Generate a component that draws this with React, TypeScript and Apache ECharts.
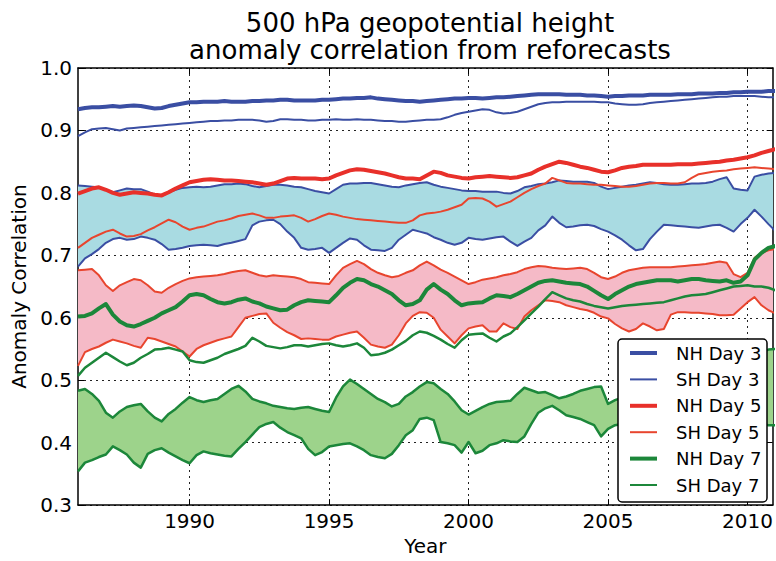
import React, { useEffect, useRef } from 'react';
import * as echarts from 'echarts';

// quarterly samples, first sample at START_YEAR
const START_YEAR = 1986;
const STEP = 0.25;

const NH_DAY3 = [
  0.934, 0.936, 0.937, 0.937, 0.938, 0.939, 0.938, 0.939, 0.940, 0.939, 0.937, 0.935,
  0.936, 0.939, 0.941, 0.943, 0.945, 0.945, 0.946, 0.946, 0.946, 0.947, 0.946, 0.946,
  0.946, 0.947, 0.947, 0.948, 0.948, 0.949, 0.949, 0.948, 0.948, 0.948, 0.948, 0.949,
  0.949, 0.950, 0.951, 0.951, 0.952, 0.952, 0.953, 0.951, 0.950, 0.949, 0.948, 0.947,
  0.947, 0.946, 0.947, 0.948, 0.949, 0.950, 0.951, 0.951, 0.952, 0.952, 0.951, 0.952,
  0.953, 0.953, 0.954, 0.955, 0.956, 0.957, 0.958, 0.958, 0.958, 0.958, 0.957, 0.957,
  0.957, 0.956, 0.956, 0.955, 0.954, 0.955, 0.955, 0.956, 0.956, 0.956, 0.957, 0.957,
  0.957, 0.957, 0.958, 0.958, 0.958, 0.959, 0.959, 0.959, 0.960, 0.960, 0.961, 0.961,
  0.962, 0.962, 0.962, 0.963, 0.963,
];

const SH_DAY3 = [
  0.891, 0.897, 0.902, 0.903, 0.904, 0.902, 0.900, 0.903, 0.904, 0.905, 0.906, 0.907,
  0.908, 0.909, 0.910, 0.911, 0.912, 0.913, 0.914, 0.915, 0.915, 0.916, 0.916, 0.917,
  0.917, 0.917, 0.916, 0.914, 0.915, 0.918, 0.918, 0.917, 0.917, 0.916, 0.916, 0.917,
  0.917, 0.918, 0.917, 0.917, 0.918, 0.917, 0.917, 0.916, 0.915, 0.915, 0.914, 0.914,
  0.915, 0.916, 0.917, 0.917, 0.918, 0.921, 0.925, 0.928, 0.930, 0.932, 0.934, 0.933,
  0.929, 0.927, 0.928, 0.930, 0.934, 0.938, 0.942, 0.944, 0.945, 0.945, 0.946, 0.946,
  0.946, 0.946, 0.946, 0.945, 0.945, 0.943, 0.942, 0.941, 0.941, 0.942, 0.944, 0.945,
  0.946, 0.947, 0.948, 0.949, 0.950, 0.951, 0.952, 0.953, 0.954, 0.954, 0.955, 0.955,
  0.955, 0.955, 0.954, 0.953, 0.953,
];

const NH_DAY5 = [
  0.799, 0.803, 0.807, 0.809, 0.805, 0.800, 0.797, 0.799, 0.801, 0.800, 0.799, 0.797,
  0.796, 0.801, 0.807, 0.812, 0.817, 0.819, 0.821, 0.822, 0.821, 0.820, 0.820, 0.819,
  0.818, 0.817, 0.815, 0.813, 0.815, 0.819, 0.823, 0.824, 0.823, 0.823, 0.823, 0.822,
  0.823, 0.828, 0.832, 0.836, 0.838, 0.837, 0.835, 0.833, 0.831, 0.828, 0.825, 0.823,
  0.823, 0.822, 0.828, 0.834, 0.832, 0.828, 0.826, 0.824, 0.823, 0.825, 0.826, 0.827,
  0.826, 0.825, 0.824, 0.825, 0.828, 0.831, 0.837, 0.842, 0.846, 0.850, 0.848, 0.845,
  0.842, 0.840, 0.837, 0.834, 0.833, 0.836, 0.840, 0.842, 0.843, 0.845, 0.845, 0.845,
  0.845, 0.845, 0.846, 0.846, 0.846, 0.847, 0.848, 0.849, 0.850, 0.852, 0.853, 0.855,
  0.857, 0.860, 0.864, 0.867, 0.870,
];

const SH_DAY5 = [
  0.712, 0.720, 0.728, 0.733, 0.738, 0.741, 0.735, 0.730, 0.731, 0.734, 0.740, 0.745,
  0.751, 0.757, 0.753, 0.746, 0.741, 0.744, 0.746, 0.750, 0.754, 0.756, 0.759, 0.763,
  0.765, 0.767, 0.764, 0.760, 0.760, 0.762, 0.763, 0.764, 0.760, 0.754, 0.758, 0.763,
  0.767, 0.765, 0.762, 0.760, 0.758, 0.757, 0.756, 0.755, 0.754, 0.753, 0.752, 0.752,
  0.756, 0.764, 0.767, 0.768, 0.770, 0.773, 0.777, 0.781, 0.791, 0.792, 0.791, 0.786,
  0.778, 0.782, 0.786, 0.793, 0.800, 0.806, 0.811, 0.815, 0.824, 0.820, 0.816, 0.815,
  0.815, 0.814, 0.813, 0.813, 0.812, 0.811, 0.810, 0.810, 0.811, 0.813, 0.815, 0.816,
  0.816, 0.815, 0.815, 0.817, 0.824, 0.830, 0.832, 0.834, 0.835, 0.836, 0.838, 0.839,
  0.840, 0.841, 0.840, 0.839, 0.838,
];

const NH_DAY7 = [
  0.602, 0.603, 0.607, 0.615, 0.622, 0.605, 0.594, 0.588, 0.586, 0.590, 0.595, 0.600,
  0.607, 0.612, 0.617, 0.626, 0.636, 0.638, 0.636, 0.630, 0.625, 0.623, 0.625, 0.629,
  0.631, 0.626, 0.623, 0.618, 0.615, 0.612, 0.613, 0.620, 0.625, 0.628, 0.627, 0.626,
  0.625, 0.636, 0.648, 0.656, 0.662, 0.660, 0.654, 0.650, 0.644, 0.638, 0.628, 0.620,
  0.622, 0.628, 0.645, 0.654, 0.645, 0.638, 0.628, 0.620, 0.623, 0.624, 0.625, 0.631,
  0.636, 0.635, 0.633, 0.638, 0.644, 0.650, 0.656, 0.659, 0.660, 0.658, 0.656, 0.655,
  0.654, 0.650, 0.643, 0.636, 0.630, 0.638, 0.644, 0.650, 0.654, 0.656, 0.658, 0.660,
  0.660, 0.660, 0.658, 0.660, 0.662, 0.662, 0.660, 0.659, 0.658, 0.660, 0.656, 0.658,
  0.668, 0.693, 0.704, 0.712, 0.715,
];

const SH_DAY7 = [
  0.507, 0.520, 0.528, 0.536, 0.544, 0.537, 0.530, 0.524, 0.528, 0.536, 0.542, 0.549,
  0.550, 0.552, 0.549, 0.546, 0.532, 0.529, 0.528, 0.532, 0.536, 0.542, 0.546, 0.550,
  0.555, 0.568, 0.562, 0.555, 0.553, 0.551, 0.553, 0.556, 0.556, 0.554, 0.556, 0.558,
  0.559, 0.556, 0.554, 0.556, 0.559, 0.552, 0.540, 0.541, 0.544, 0.549, 0.556, 0.563,
  0.572, 0.578, 0.576, 0.571, 0.565, 0.558, 0.552, 0.564, 0.573, 0.574, 0.575, 0.568,
  0.562, 0.570, 0.575, 0.585, 0.596, 0.607, 0.618, 0.630, 0.641, 0.636, 0.631, 0.628,
  0.626, 0.622, 0.619, 0.617, 0.615, 0.617, 0.619, 0.620, 0.621, 0.622, 0.623, 0.624,
  0.625, 0.628, 0.631, 0.634, 0.636, 0.637, 0.638, 0.641, 0.644, 0.647, 0.650, 0.651,
  0.652, 0.650, 0.650, 0.648, 0.644,
];

// shaded spread bands (upper and lower edges)
const BAND3_UPPER = [
  0.812, 0.811, 0.810, 0.809, 0.805, 0.801, 0.804, 0.807, 0.806, 0.806, 0.802, 0.797,
  0.795, 0.801, 0.805, 0.808, 0.809, 0.810, 0.809, 0.810, 0.812, 0.814, 0.814, 0.815,
  0.814, 0.811, 0.809, 0.811, 0.813, 0.813, 0.812, 0.810, 0.809, 0.806, 0.803, 0.801,
  0.799, 0.806, 0.813, 0.815, 0.815, 0.816, 0.816, 0.814, 0.812, 0.810, 0.809, 0.812,
  0.814, 0.816, 0.817, 0.813, 0.810, 0.808, 0.806, 0.804, 0.803, 0.803, 0.802, 0.802,
  0.802, 0.800, 0.799, 0.803, 0.809, 0.811, 0.814, 0.815, 0.817, 0.820, 0.819, 0.818,
  0.818, 0.818, 0.816, 0.810, 0.806, 0.808, 0.810, 0.812, 0.813, 0.815, 0.817, 0.816,
  0.814, 0.813, 0.813, 0.814, 0.815, 0.815, 0.816, 0.818, 0.822, 0.825, 0.807, 0.805,
  0.804, 0.826, 0.829, 0.831, 0.832,
];

const BAND3_LOWER = [
  0.682, 0.695, 0.702, 0.710, 0.720, 0.726, 0.728, 0.725, 0.726, 0.730, 0.728, 0.725,
  0.718, 0.709, 0.710, 0.712, 0.715, 0.716, 0.717, 0.716, 0.715, 0.718, 0.720, 0.723,
  0.726, 0.748, 0.754, 0.756, 0.757, 0.750, 0.738, 0.728, 0.712, 0.709, 0.710, 0.712,
  0.704, 0.712, 0.720, 0.727, 0.725, 0.716, 0.709, 0.708, 0.707, 0.712, 0.725, 0.733,
  0.741, 0.738, 0.735, 0.729, 0.725, 0.720, 0.717, 0.720, 0.728, 0.726, 0.725, 0.727,
  0.729, 0.730, 0.722, 0.715, 0.722, 0.728, 0.740, 0.748, 0.762, 0.752, 0.745, 0.746,
  0.748, 0.749, 0.747, 0.742, 0.738, 0.732, 0.725, 0.716, 0.708, 0.710, 0.726, 0.738,
  0.749, 0.748, 0.747, 0.746, 0.745, 0.744, 0.746, 0.748, 0.749, 0.744, 0.738, 0.750,
  0.760, 0.773, 0.762, 0.750, 0.739,
];

const BAND5_UPPER = [
  0.676, 0.677, 0.678, 0.668, 0.652, 0.643, 0.652, 0.657, 0.662, 0.660, 0.652, 0.642,
  0.640, 0.648, 0.654, 0.659, 0.663, 0.665, 0.666, 0.667, 0.668, 0.670, 0.673, 0.675,
  0.676, 0.672, 0.668, 0.666, 0.668, 0.667, 0.666, 0.665, 0.662, 0.657, 0.656, 0.655,
  0.654, 0.668, 0.680, 0.686, 0.691, 0.686, 0.678, 0.672, 0.668, 0.665, 0.667, 0.672,
  0.676, 0.684, 0.690, 0.684, 0.677, 0.672, 0.666, 0.660, 0.654, 0.657, 0.661, 0.663,
  0.665, 0.668, 0.670, 0.673, 0.678, 0.681, 0.683, 0.682, 0.680, 0.679, 0.678, 0.679,
  0.680, 0.678, 0.672, 0.665, 0.662, 0.666, 0.672, 0.676, 0.678, 0.680, 0.681, 0.681,
  0.681, 0.681, 0.682, 0.683, 0.684, 0.685, 0.686, 0.688, 0.690, 0.688, 0.670, 0.665,
  0.672, 0.696, 0.704, 0.708, 0.710,
];

const BAND5_LOWER = [
  0.523, 0.545, 0.550, 0.554, 0.560, 0.565, 0.562, 0.559, 0.555, 0.552, 0.568, 0.566,
  0.562, 0.558, 0.554, 0.546, 0.538, 0.550, 0.556, 0.560, 0.564, 0.567, 0.570, 0.585,
  0.600, 0.603, 0.606, 0.607, 0.592, 0.584, 0.577, 0.572, 0.566, 0.567, 0.566, 0.565,
  0.565, 0.570, 0.573, 0.576, 0.578, 0.568, 0.557, 0.554, 0.552, 0.557, 0.572, 0.591,
  0.603, 0.609, 0.608, 0.600, 0.581, 0.570, 0.559, 0.572, 0.583, 0.586, 0.588, 0.578,
  0.578, 0.591, 0.585, 0.582, 0.602, 0.612, 0.620, 0.628, 0.627, 0.625, 0.620, 0.617,
  0.614, 0.612, 0.608, 0.602, 0.599, 0.590, 0.583, 0.578, 0.582, 0.591, 0.586, 0.580,
  0.582, 0.605, 0.609, 0.609, 0.608, 0.608, 0.607, 0.606, 0.604, 0.604, 0.605, 0.615,
  0.625, 0.633, 0.620, 0.612, 0.607,
];

const BAND7_UPPER = [
  0.483, 0.486, 0.478, 0.467, 0.448, 0.440, 0.450, 0.457, 0.460, 0.462, 0.450, 0.440,
  0.434, 0.446, 0.454, 0.464, 0.473, 0.468, 0.465, 0.468, 0.470, 0.478, 0.486, 0.491,
  0.482, 0.470, 0.466, 0.463, 0.459, 0.457, 0.455, 0.454, 0.456, 0.457, 0.454, 0.451,
  0.449, 0.472, 0.490, 0.501, 0.494, 0.486, 0.478, 0.470, 0.465, 0.458, 0.462, 0.474,
  0.481, 0.490, 0.497, 0.495, 0.486, 0.478, 0.466, 0.452, 0.445, 0.451, 0.457, 0.462,
  0.465, 0.466, 0.467, 0.478, 0.488, 0.484, 0.480, 0.481, 0.476, 0.471, 0.474, 0.478,
  0.483, 0.486, 0.489, 0.490, 0.462, 0.468, 0.472, 0.476, 0.478, 0.480, 0.482, 0.484,
  0.485, 0.486, 0.488, 0.489, 0.490, 0.491, 0.492, 0.494, 0.496, 0.498, 0.500, 0.505,
  0.515, 0.530, 0.545, 0.549, 0.550,
];

const BAND7_LOWER = [
  0.354, 0.368, 0.372, 0.377, 0.381, 0.394, 0.388, 0.381, 0.368, 0.360, 0.382, 0.388,
  0.391, 0.384, 0.378, 0.372, 0.367, 0.380, 0.386, 0.383, 0.381, 0.379, 0.378, 0.390,
  0.401, 0.413, 0.425, 0.430, 0.433, 0.424, 0.417, 0.412, 0.407, 0.390, 0.380, 0.385,
  0.394, 0.396, 0.398, 0.399, 0.394, 0.388, 0.380, 0.377, 0.375, 0.382, 0.396, 0.412,
  0.420, 0.438, 0.440, 0.436, 0.401, 0.399, 0.396, 0.384, 0.401, 0.383, 0.387, 0.396,
  0.399, 0.404, 0.402, 0.401, 0.410, 0.430, 0.448, 0.455, 0.459, 0.452, 0.444, 0.441,
  0.438, 0.433, 0.428, 0.410, 0.422, 0.428, 0.430, 0.430, 0.432, 0.428, 0.431, 0.434,
  0.430, 0.427, 0.432, 0.436, 0.433, 0.430, 0.434, 0.437, 0.435, 0.432, 0.436, 0.434,
  0.431, 0.432, 0.430, 0.428, 0.428,
];

const X_TICKS = [1990, 1995, 2000, 2005, 2010];
const LEGEND_NAMES = ['NH Day 3', 'SH Day 3', 'NH Day 5', 'SH Day 5', 'NH Day 7', 'SH Day 7'];

const BLUE = '#3a4ea3';
const RED = '#e8302a';
const RED_THIN = '#e8452e';
const GREEN = '#1c873a';
const CYAN_FILL = '#a9dbe2';
const PINK_FILL = '#f5bac7';
const GREEN_FILL = '#9dd38b';
const FONT = 'DejaVu Sans';

const yearAt = (i: number) => START_YEAR + i * STEP;
const pairs = (vals: number[]) => vals.map((v, i) => [yearAt(i), v]);

function bandSeries(upper: number[], lower: number[], fill: string) {
  return {
    type: 'custom',
    name: 'band',
    clip: true,
    silent: true,
    z: 1,
    data: [[START_YEAR, lower[0]]],
    renderItem: (_params: any, api: any) => {
      const pts: number[][] = [];
      for (let i = 0; i < upper.length; i++) pts.push(api.coord([yearAt(i), upper[i]]));
      for (let i = lower.length - 1; i >= 0; i--) pts.push(api.coord([yearAt(i), lower[i]]));
      return { type: 'polygon', shape: { points: pts }, style: { fill, stroke: 'none' } };
    },
  };
}

function lineSeries(name: string, vals: number[], color: string, width: number, z = 3) {
  return {
    type: 'line',
    name,
    data: pairs(vals),
    symbol: 'none',
    showSymbol: false,
    smooth: false,
    z,
    lineStyle: { color, width, join: 'round' },
    itemStyle: { color },
    emphasis: { disabled: true },
  };
}

const LEGEND_STYLE = [
  { color: BLUE, width: 4 },
  { color: BLUE, width: 2 },
  { color: RED, width: 4 },
  { color: RED_THIN, width: 2 },
  { color: GREEN, width: 4 },
  { color: GREEN, width: 2 },
];

export default function App() {
  const ref = useRef<HTMLDivElement>(null);
  useEffect(() => {
    document.body.style.margin = '0';
    if (!ref.current) return;
    const chart = echarts.init(ref.current, null, { renderer: 'svg' });

    const LZ = 200;
    const legendChildren: any[] = [
      {
        type: 'rect',
        z: LZ,
        shape: { x: 0, y: 0, width: 149, height: 163, r: 4 },
        style: { fill: '#ffffff', stroke: '#000000', lineWidth: 1.5 },
      },
    ];
    LEGEND_NAMES.forEach((name, k) => {
      const y = 14 + k * 26.4;
      legendChildren.push({
        type: 'line',
        z: LZ + 1,
        shape: { x1: 12, y1: y, x2: 39, y2: y },
        style: { stroke: LEGEND_STYLE[k].color, lineWidth: LEGEND_STYLE[k].width },
      });
      legendChildren.push({
        type: 'text',
        z: LZ + 1,
        x: 58,
        y,
        style: {
          text: name,
          fill: '#000',
          fontSize: 18,
          fontFamily: FONT,
          verticalAlign: 'middle',
          textVerticalAlign: 'middle',
          align: 'left',
        },
      });
    });

    const axisCommon = {
      type: 'value' as const,
      axisLine: { show: true, onZero: false, lineStyle: { color: '#000', width: 1.5 } },
    };

    chart.setOption({
      animation: false,
      backgroundColor: '#ffffff',
      textStyle: { fontFamily: FONT },
      title: {
        text: '500 hPa geopotential height\nanomaly correlation from reforecasts',
        left: 430,
        top: 9,
        textAlign: 'center',
        padding: 0,
        textStyle: { fontFamily: FONT, fontSize: 26, fontWeight: 'normal', color: '#000', lineHeight: 27 },
      },
      grid: { left: 78, right: 3, top: 68, bottom: 50, containLabel: false },
      xAxis: [
        {
          ...axisCommon,
          position: 'bottom',
          min: 1986,
          max: 2010.9,
          name: 'Year',
          nameLocation: 'middle',
          nameGap: 29,
          nameTextStyle: { fontSize: 20, color: '#000', fontFamily: FONT },
          axisTick: { show: true, inside: true, length: 6, customValues: X_TICKS, lineStyle: { color: '#000', width: 1 } },
          axisLabel: {
            show: true,
            customValues: X_TICKS,
            fontSize: 20,
            color: '#000',
            margin: 6,
            fontFamily: FONT,
            formatter: (v: number) => String(Math.round(v)),
          },
          splitLine: { show: true, lineStyle: { color: '#222', width: 1, type: [2, 4] } },
        },
        {
          ...axisCommon,
          position: 'top',
          min: 1986,
          max: 2010.9,
          axisTick: { show: true, inside: true, length: 6, customValues: X_TICKS, lineStyle: { color: '#000', width: 1 } },
          axisLabel: { show: false },
          splitLine: { show: false },
        },
      ],
      yAxis: [
        {
          ...axisCommon,
          position: 'left',
          min: 0.3,
          max: 1.0,
          interval: 0.1,
          name: 'Anomaly Correlation',
          nameLocation: 'middle',
          nameGap: 47,
          nameTextStyle: { fontSize: 20, color: '#000', fontFamily: FONT },
          axisTick: { show: true, inside: true, length: 6, lineStyle: { color: '#000', width: 1 } },
          axisLabel: {
            fontSize: 20,
            color: '#000',
            margin: 6,
            fontFamily: FONT,
            formatter: (v: number) => v.toFixed(1),
          },
          splitLine: { show: true, lineStyle: { color: '#222', width: 1, type: [2, 4] } },
        },
        {
          ...axisCommon,
          position: 'right',
          min: 0.3,
          max: 1.0,
          interval: 0.1,
          axisTick: { show: true, inside: true, length: 6, lineStyle: { color: '#000', width: 1 } },
          axisLabel: { show: false },
          splitLine: { show: false },
        },
      ],
      series: [
        bandSeries(BAND3_UPPER, BAND3_LOWER, CYAN_FILL),
        bandSeries(BAND5_UPPER, BAND5_LOWER, PINK_FILL),
        bandSeries(BAND7_UPPER, BAND7_LOWER, GREEN_FILL),
        lineSeries('SH Day 3 spread upper', BAND3_UPPER, BLUE, 2),
        lineSeries('SH Day 3 spread lower', BAND3_LOWER, BLUE, 2),
        lineSeries('SH Day 5 spread upper', BAND5_UPPER, RED_THIN, 2),
        lineSeries('SH Day 5 spread lower', BAND5_LOWER, RED_THIN, 2),
        lineSeries('SH Day 7 spread upper', BAND7_UPPER, GREEN, 2.5),
        lineSeries('SH Day 7 spread lower', BAND7_LOWER, GREEN, 2.5),
        lineSeries('NH Day 3', NH_DAY3, BLUE, 4, 4),
        lineSeries('SH Day 3', SH_DAY3, BLUE, 2, 4),
        lineSeries('NH Day 5', NH_DAY5, RED, 4, 4),
        lineSeries('SH Day 5', SH_DAY5, RED_THIN, 2, 4),
        lineSeries('NH Day 7', NH_DAY7, GREEN, 4, 4),
        lineSeries('SH Day 7', SH_DAY7, GREEN, 2.5, 4),
      ],
      graphic: {
        z: LZ,
        elements: [
          {
            type: 'group',
            x: 618,
            y: 339,
            z: LZ,
            children: legendChildren,
          },
        ],
      },
    });
    return () => chart.dispose();
  }, []);
  return <div ref={ref} style={{ width: 776, height: 561 }} />;
}
